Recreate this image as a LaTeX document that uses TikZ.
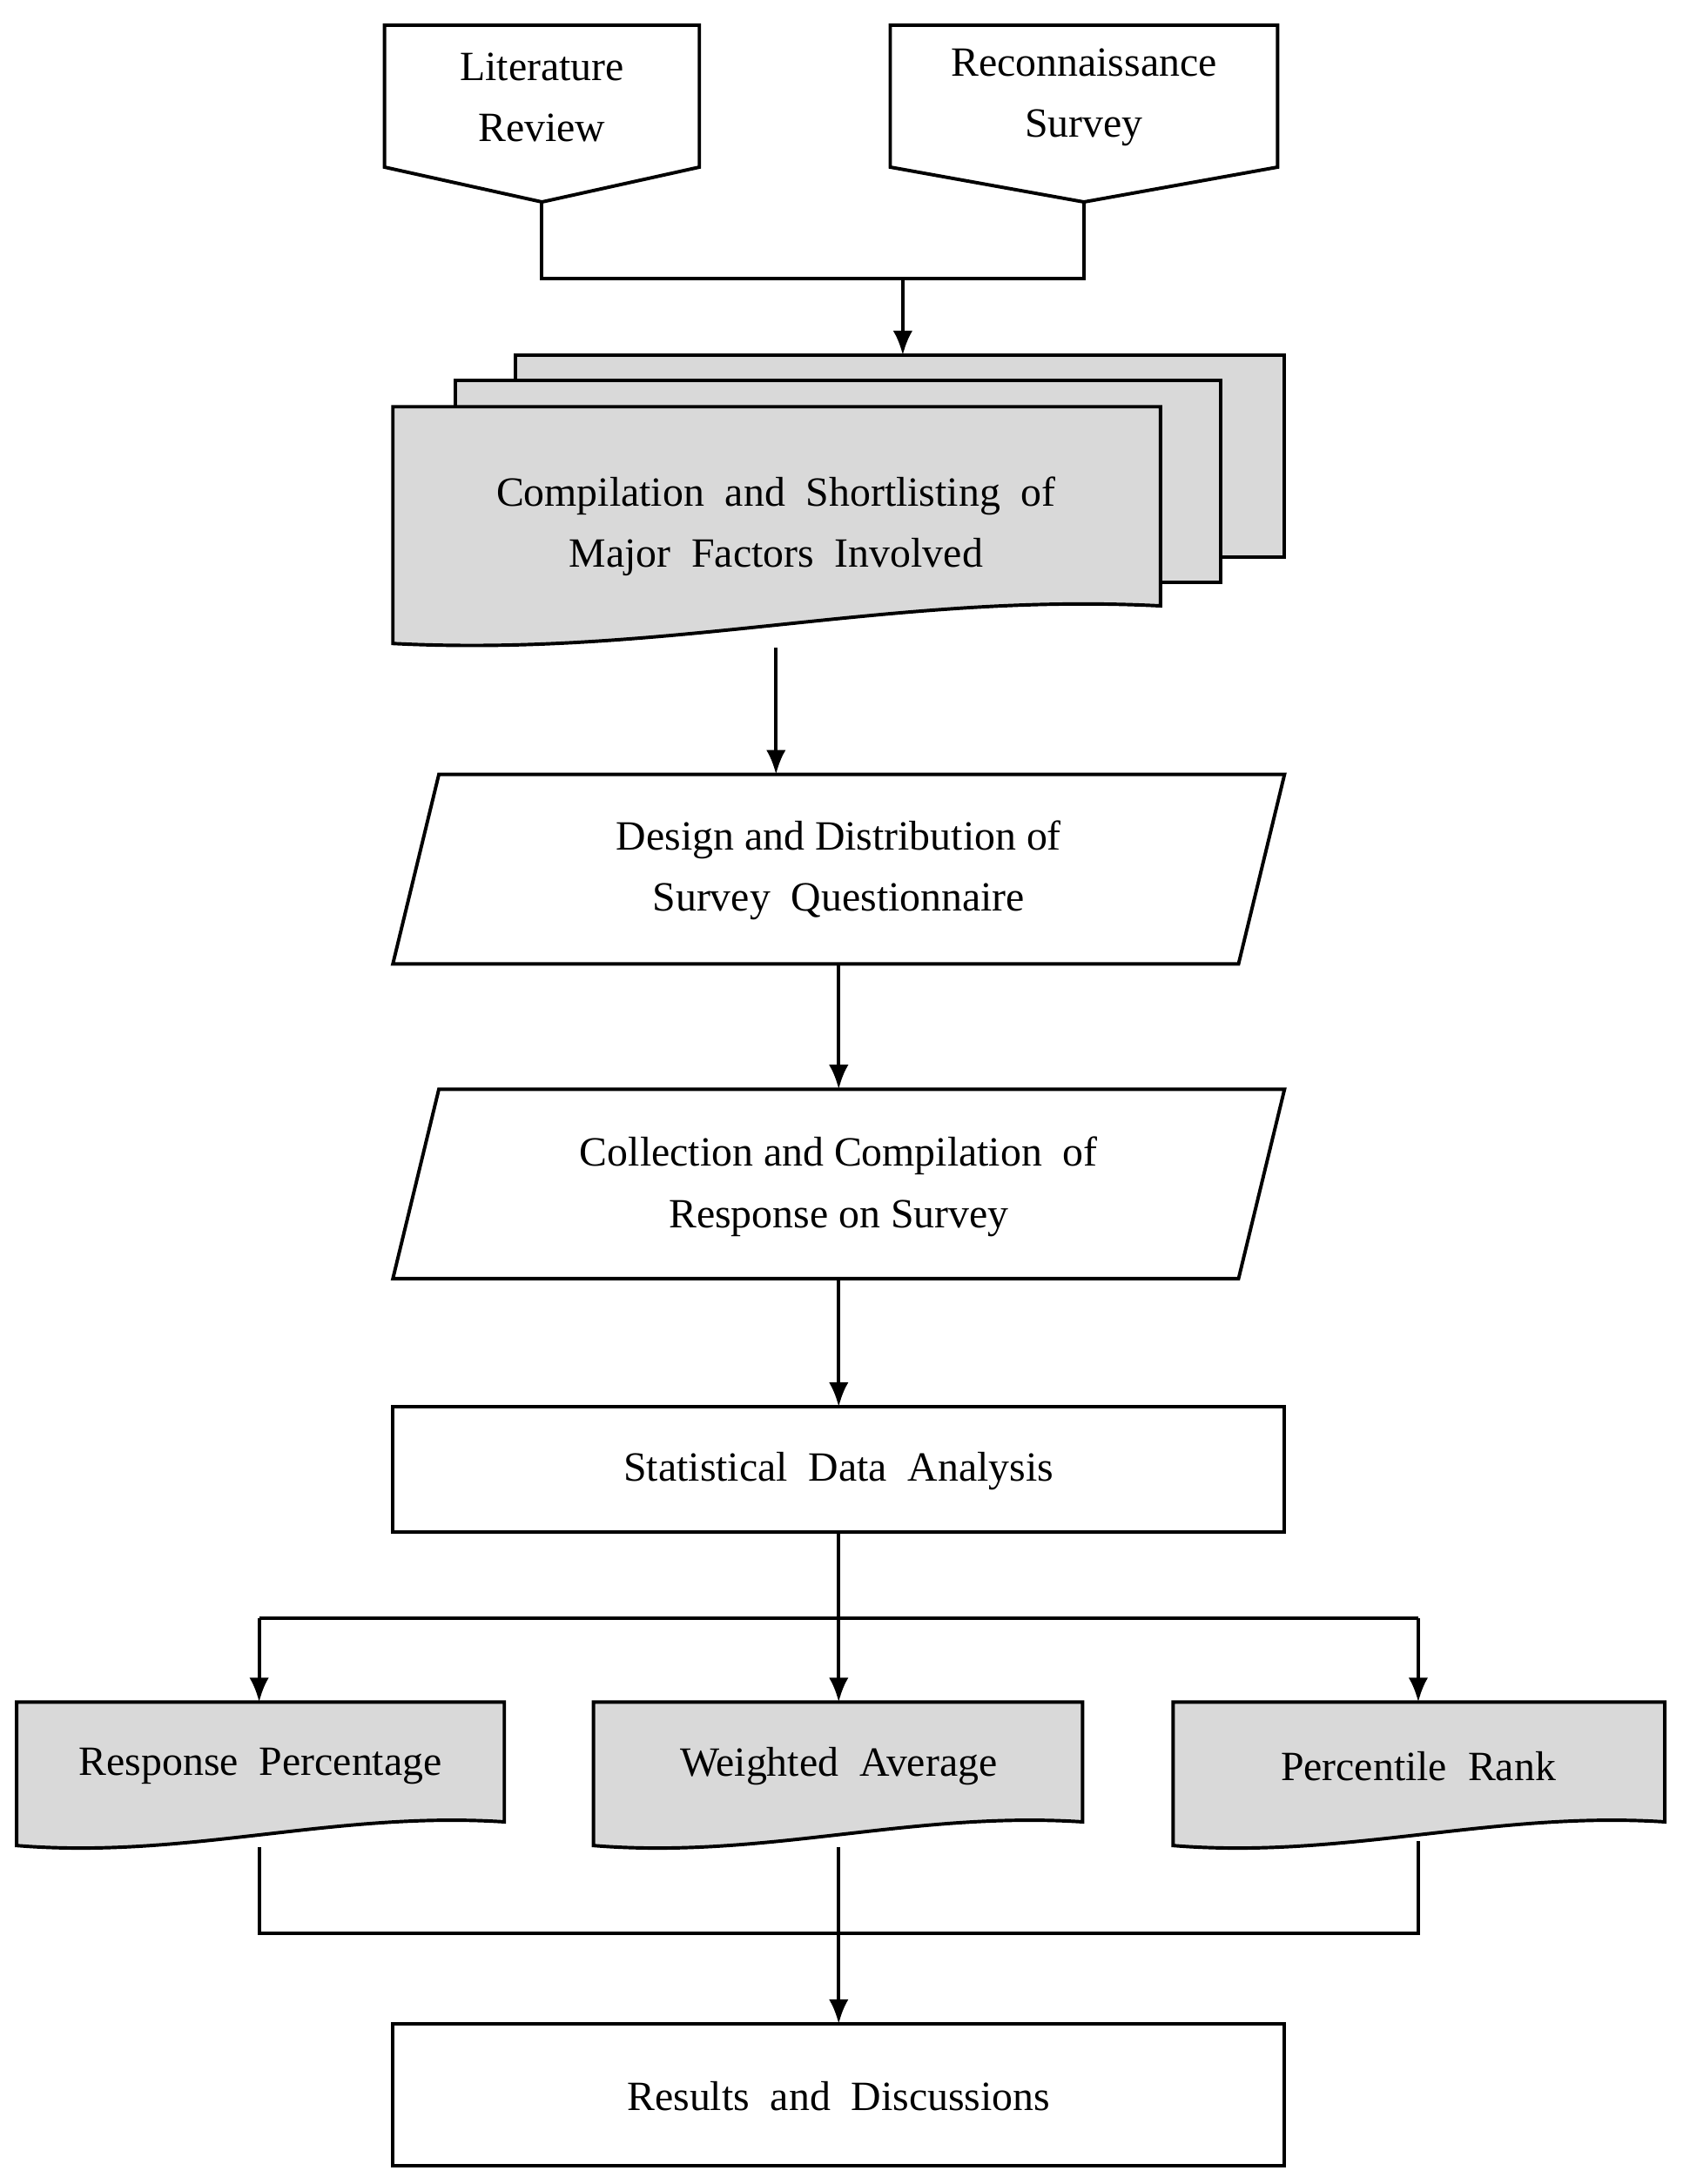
\documentclass[tikz,border=0pt]{standalone}
\usepackage{fontspec}
\setmainfont{Liberation Serif}
\usetikzlibrary{arrows.meta}
\begin{document}
\begin{tikzpicture}[x=0.02cm,y=-0.02cm,
  sh/.style={draw=black,line width=1.4pt,line join=miter},
  gr/.style={sh,fill=gray!30},
  tx/.style={font=\fontsize{17}{25}\selectfont,align=center,inner sep=0},
  ln/.style={draw=black,line width=1.4pt},
  ar/.style={ln,-{Latex[length=10pt,width=8pt]}}]
\useasboundingbox (0,0) rectangle (1208,1568);
% off-page connectors
\draw[sh,fill=white] (276,18)--(502,18)--(502,120)--(389,145)--(276,120)--cycle;
\node[tx] (lit) at (389,70) {Literature\\Review};
\draw[sh,fill=white] (639,18)--(917,18)--(917,120)--(778,145)--(639,120)--cycle;
\node[tx] (rec) at (778,70) {Reconnaissance\\Survey};
\coordinate (litb) at (389,145); \coordinate (recb) at (778,145);
\coordinate (j1) at (389,200); \coordinate (j2) at (778,200); \coordinate (j3) at (648,200);
\coordinate (mdt) at (648,255);
\draw[ln] (litb)--(j1)--(j2)--(recb);
\draw[ar] (j3)--(mdt);
% multi-document
\draw[gr] (370,255) rectangle (922,400);
\draw[gr] (327,273) rectangle (876,418);
\draw[gr] (282,292)--(833,292)--(833,435) .. controls (640,425) and (480,472) .. (282,462)--cycle;
\node[tx] (comp) at (557,378) {Compilation~ and~ Shortlisting~ of\\Major~ Factors~ Involved};
\coordinate (compb) at (557,465);
% parallelograms
\draw[sh,fill=white] (315,556)--(922,556)--(889,692)--(282,692)--cycle;
\node[tx] (des) at (602,625) {Design and Distribution of\\Survey~ Questionnaire};
\coordinate (dest) at (557,556); \coordinate (desb) at (602,692);
\draw[ar] (compb)--(dest);
\draw[sh,fill=white] (315,782)--(922,782)--(889,918)--(282,918)--cycle;
\node[tx] (col) at (602,852) {Collection and Compilation~ of\\Response on Survey};
\coordinate (colt) at (602,782); \coordinate (colb) at (602,918);
\draw[ar] (desb)--(colt);
\draw[sh,fill=white] (282,1010) rectangle (922,1100);
\node[tx] (sta) at (602,1056) {Statistical~ Data~ Analysis};
\coordinate (stat) at (602,1010); \coordinate (stab) at (602,1100);
\draw[ar] (colb)--(stat);
% split
\coordinate (s1) at (186,1162); \coordinate (s3) at (1018,1162); \coordinate (s2) at (602,1162);
\coordinate (d1t) at (186,1222); \coordinate (d2t) at (602,1222); \coordinate (d3t) at (1018,1222);
\draw[ln] (stab)--(s2); \draw[ln] (s1)--(s3);
\draw[ar] (s2)--(d2t); \draw[ar] (s1)--(d1t); \draw[ar] (s3)--(d3t);
% documents
\foreach \a/\b in {12/362,426/777,842/1195}{
 \draw[gr] (\a,1222)--(\b,1222)--(\b,1308) .. controls ({\b-0.35*(\b-\a)},1300) and ({\a+0.35*(\b-\a)},1335) .. (\a,1325)--cycle;}
\node[tx] (rp) at (187,1268) {Response~ Percentage};
\node[tx] (wa) at (602,1268) {Weighted~ Average};
\node[tx] (pr) at (1018,1268) {Percentile~ Rank};
\coordinate (d1b) at (186,1326); \coordinate (d2b) at (602,1326); \coordinate (d3b) at (1018,1322);
\coordinate (m1) at (186,1388); \coordinate (m3) at (1018,1388);
\coordinate (rest) at (602,1453);
\draw[ln] (d1b)--(m1)--(m3)--(d3b);
\draw[ar] (d2b)--(rest);
\draw[sh,fill=white] (282,1453) rectangle (922,1555);
\node[tx] (res) at (602,1505) {Results~ and~ Discussions};
\end{tikzpicture}
\end{document}
